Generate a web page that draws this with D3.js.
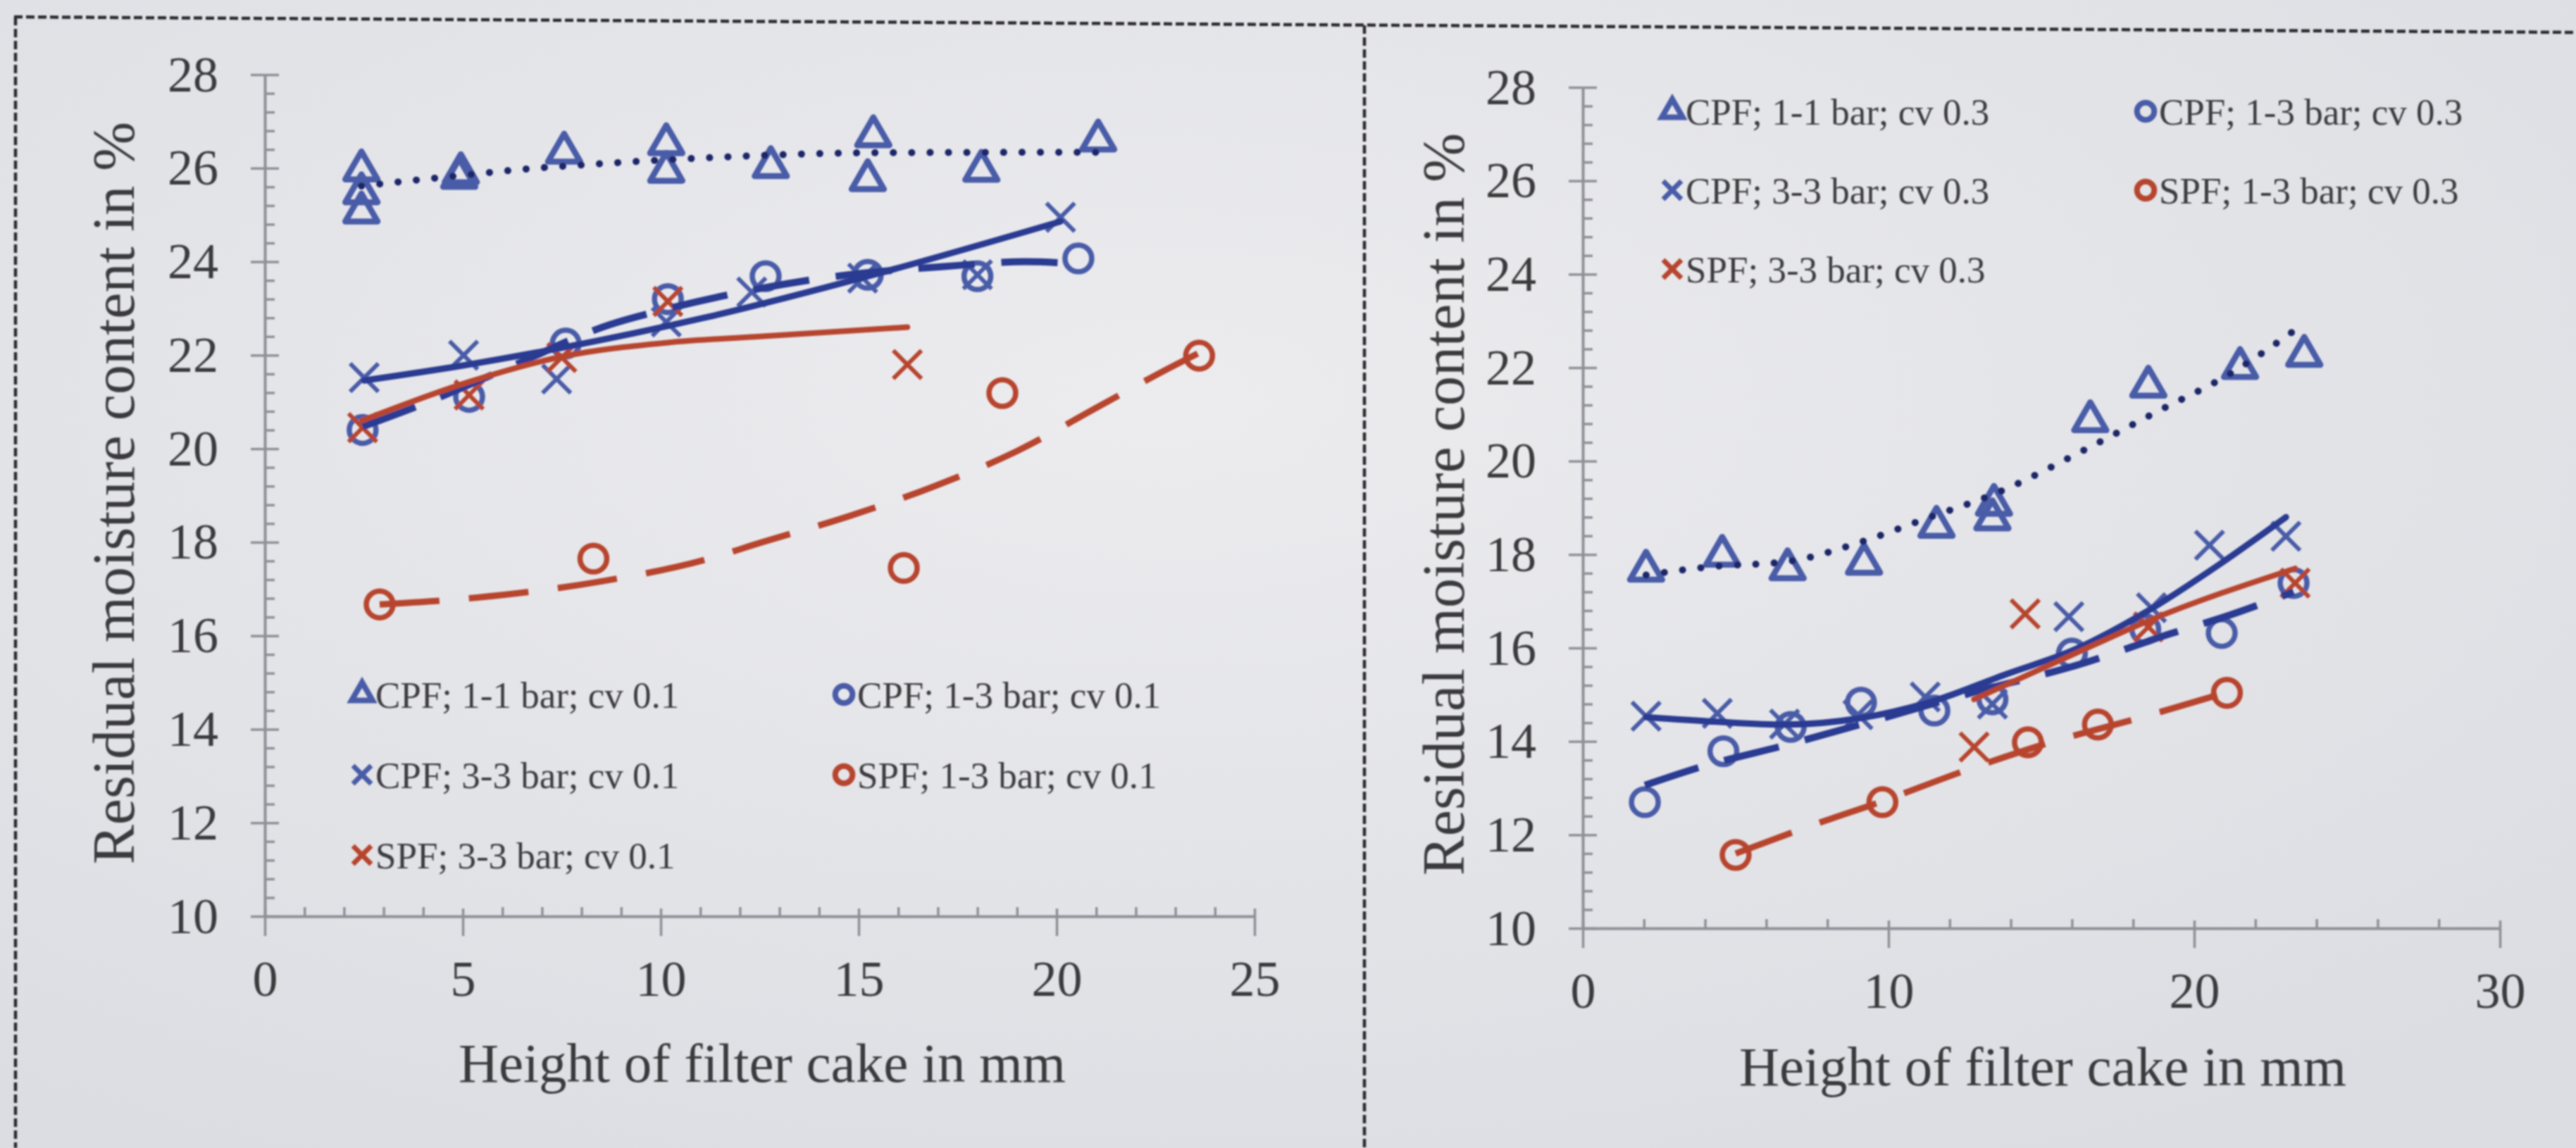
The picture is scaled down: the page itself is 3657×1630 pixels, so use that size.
<!DOCTYPE html>
<html>
<head>
<meta charset="utf-8">
<script src="https://cdn.jsdelivr.net/npm/d3@7"></script>
<style>
  html, body { margin: 0; padding: 0; background: #e4e5e9; }
  svg { display: block; }
  text { font-family: 'Liberation Serif', 'Times New Roman', serif; }
</style>
</head>
<body>
<svg id="chart" width="3657" height="1630"></svg>
<script>
const yTicks = [10, 12, 14, 16, 18, 20, 22, 24, 26, 28];
const xTicksLeft = [0, 5, 10, 15, 20, 25];
const xTicksRight = [0, 10, 20, 30];
const yTitle = 'Residual moisture content in %';
const xTitle = 'Height of filter cake in mm';

// cv 0.1
const cpf11Left = [[2.44, 25.96], [2.44, 25.47], [2.44, 25.06], [4.91, 25.80], [4.95, 25.90], [7.56, 26.34], [10.14, 26.52], [10.14, 25.93], [12.78, 26.03], [15.37, 26.69], [15.23, 25.75], [18.10, 25.95], [21.05, 26.60]];
const cpf11LeftTrend = [[2.44, 25.62], [4.9, 25.84], [6.7, 25.99], [8.2, 26.08], [11.1, 26.22], [15.4, 26.33], [21.05, 26.34]];
const cpf13Left = [[2.47, 20.40], [5.16, 21.11], [7.6, 22.25], [10.18, 23.20], [12.65, 23.69], [15.23, 23.72], [18.0, 23.69], [20.55, 24.07]];
const cpf13LeftTrend = [[2.47, 20.47], [3.83, 20.9], [6.2, 21.75], [8.7, 22.65], [10.07, 22.97], [11.64, 23.28], [14.55, 23.7], [17.2, 23.9], [19.2, 24.0], [20.55, 23.95]];
const cpf33Left = [[2.51, 21.52], [5.02, 22.0], [7.37, 21.49], [10.14, 22.71], [12.3, 23.35], [15.1, 23.65], [18.0, 23.72], [20.1, 24.95]];
const cpf33LeftTrend = [[2.51, 21.46], [5.0, 21.78], [7.45, 22.15], [11.1, 22.8], [15.37, 23.72], [20.1, 24.86]];
const spf13Left = [[2.9, 16.67], [8.3, 17.65], [16.14, 17.45], [18.63, 21.19], [23.6, 21.99]];
const spf13LeftTrend = [[2.9, 16.67], [5.4, 16.82], [8.4, 17.15], [11.1, 17.62], [12.56, 18.0], [14.73, 18.55], [16.92, 19.2], [19.0, 19.95], [21.1, 20.92], [22.9, 21.75], [23.6, 22.05]];
const spf33Left = [[2.47, 20.45], [5.16, 21.15], [7.5, 21.95], [10.18, 23.15], [16.23, 21.8]];
const spf33LeftTrend = [[2.45, 20.6], [5.16, 21.43], [7.45, 21.96], [10.18, 22.27], [12.5, 22.4], [16.23, 22.6]];
const legendLeft = ['CPF; 1-1 bar; cv 0.1', 'CPF; 1-3 bar; cv 0.1', 'CPF; 3-3 bar; cv 0.1', 'SPF; 1-3 bar; cv 0.1', 'SPF; 3-3 bar; cv 0.1'];

// cv 0.3
const cpf11Right = [[2.07, 17.66], [4.56, 17.98], [6.7, 17.69], [9.2, 17.81], [11.57, 18.6], [13.4, 18.76], [13.45, 19.07], [16.6, 20.86], [18.5, 21.6], [21.5, 22.0], [23.6, 22.26]];
const cpf11RightTrend = [[2.07, 17.56], [4.2, 17.74], [6.7, 17.85], [9.15, 18.28], [11.27, 18.78], [13.55, 19.32], [16.5, 20.27], [18.85, 21.08], [21.1, 21.84], [23.5, 22.9]];
const cpf13Right = [[2.03, 12.7], [4.6, 13.79], [6.8, 14.31], [9.1, 14.83], [11.5, 14.66], [13.4, 14.9], [16.0, 15.88], [18.4, 16.4], [20.9, 16.32], [23.25, 17.39]];
const cpf13RightTrend = [[2.03, 13.06], [3.8, 13.44], [6.75, 13.94], [9.56, 14.45], [12.5, 15.0], [16.5, 15.7], [19.2, 16.3], [21.15, 16.7], [23.25, 17.2]];
const cpf33Right = [[2.07, 14.54], [4.4, 14.6], [6.6, 14.37], [9.0, 14.57], [11.2, 14.95], [13.4, 14.8], [15.9, 16.67], [18.6, 16.86], [20.5, 18.2], [23.0, 18.39]];
const cpf33RightTrend = [[2.07, 14.52], [4.4, 14.42], [6.6, 14.36], [9.1, 14.5], [11.3, 14.83], [13.9, 15.45], [16.0, 15.94], [18.5, 16.8], [20.85, 17.8], [23.0, 18.8]];
const spf13Right = [[5.0, 11.57], [9.8, 12.7], [14.56, 13.98], [16.85, 14.36], [21.07, 15.04]];
const spf13RightTrend = [[5.0, 11.6], [7.7, 12.25], [9.8, 12.72], [12.4, 13.35], [15.3, 13.98], [18.2, 14.5], [21.07, 15.05]];
const spf33Right = [[12.8, 13.88], [14.47, 16.73], [18.5, 16.45], [23.3, 17.39]];
const spf33RightTrend = [[12.8, 14.9], [16.0, 15.85], [18.5, 16.58], [23.3, 17.7]];
const legendRight = ['CPF; 1-1 bar; cv 0.3', 'CPF; 1-3 bar; cv 0.3', 'CPF; 3-3 bar; cv 0.3', 'SPF; 1-3 bar; cv 0.3', 'SPF; 3-3 bar; cv 0.3'];

const blue = '#4a5ca7', navy = '#2b3a92', dots = '#1d2668', red = '#b7442d';

const timesType = d3.symbolTimes || {
    draw: function (ctx, size) {
        const r = Math.sqrt(size) * 0.6189;
        ctx.moveTo(-r, -r); ctx.lineTo(r, r); ctx.moveTo(-r, r); ctx.lineTo(r, -r);
    }
};
const triangleType = d3.symbolTriangle2 || d3.symbolTriangle;

const markers = {
    triangle: {type: triangleType, size: 1500, width: 8.5},
    circle: {type: d3.symbolCircle, size: 1130, width: 7.5},
    cross: {type: timesType, size: 1050, width: 6}
};

function seriesList(pts) {
    return [
        {points: pts[0], trend: pts[1], marker: 'triangle', color: blue, line: dots, dash: '0.1 26', lw: 10, cap: 'round'},
        {points: pts[2], trend: pts[3], marker: 'circle', color: blue, line: navy, dash: '80 38', lw: 10, cap: 'butt'},
        {points: pts[4], trend: pts[5], marker: 'cross', color: blue, line: navy, dash: null, lw: 9, cap: 'round'},
        {points: pts[6], trend: pts[7], marker: 'circle', color: red, line: red, dash: '85 42', lw: 9, cap: 'butt'},
        {points: pts[8], trend: pts[9], marker: 'cross', color: red, line: red, dash: null, lw: 8, cap: 'round'}
    ];
}

const svg = d3.select('#chart');

const defs = svg.append('defs');
const grad = defs.append('radialGradient').attr('id', 'paper')
    .attr('cx', '45%').attr('cy', '35%').attr('r', '75%');
grad.append('stop').attr('offset', '0%').attr('stop-color', '#ececef');
grad.append('stop').attr('offset', '100%').attr('stop-color', '#dcdde2');
defs.append('filter').attr('id', 'soft')
    .append('feGaussianBlur').attr('stdDeviation', 1.1);

svg.append('rect').attr('width', 3657).attr('height', 1630).attr('fill', 'url(#paper)');

const root = svg.append('g').attr('filter', 'url(#soft)');

// dashed frame
root.append('line').attr('x1', 20).attr('y1', 24).attr('x2', 3657).attr('y2', 46);
root.append('line').attr('x1', 22).attr('y1', 24).attr('x2', 22).attr('y2', 1630);
root.append('line').attr('x1', 1937).attr('y1', 36).attr('x2', 1937).attr('y2', 1630);
root.selectAll('line')
    .attr('stroke', '#2a2a2e')
    .attr('stroke-width', 4.5)
    .attr('stroke-dasharray', '12 5');

function drawPanel(p) {
    const x = d3.scaleLinear().domain([0, p.xMax]).range(p.xRange);
    const y = d3.scaleLinear().domain([10, 28]).range(p.yRange);
    const g = root.append('g');
    const axisColor = '#8f9097';

    const yMinor = d3.range(10, 28.001, 0.4).filter(function (v) {
        return Math.abs(v / 2 - Math.round(v / 2)) > 0.01;
    });
    const xMinor = d3.range(0, p.xMax + 0.001, p.xMinorStep).filter(function (v) {
        return p.xTicks.indexOf(v) < 0;
    });

    g.append('g').attr('transform', 'translate(' + x(0) + ',0)')
        .call(d3.axisLeft(y).tickValues(yTicks).tickSize(20).tickSizeOuter(0).tickPadding(46));
    g.append('g').attr('transform', 'translate(' + x(0) + ',0)')
        .call(d3.axisRight(y).tickValues(yTicks).tickSize(20).tickFormat(''))
        .select('.domain').remove();
    g.append('g').attr('transform', 'translate(' + x(0) + ',0)')
        .call(d3.axisRight(y).tickValues(yMinor).tickSize(14).tickFormat(''))
        .select('.domain').remove();

    g.append('g').attr('transform', 'translate(0,' + y(10) + ')')
        .call(d3.axisBottom(x).tickValues(p.xTicks).tickSize(28).tickSizeOuter(0).tickPadding(34));
    g.append('g').attr('transform', 'translate(0,' + y(10) + ')')
        .call(d3.axisTop(x).tickValues(p.xTicks).tickSize(11).tickFormat(''))
        .select('.domain').remove();
    g.append('g').attr('transform', 'translate(0,' + y(10) + ')')
        .call(d3.axisTop(x).tickValues(xMinor).tickSize(13).tickFormat(''))
        .select('.domain').remove();

    g.selectAll('.domain').attr('stroke', axisColor).attr('stroke-width', 4);
    g.selectAll('.tick line').attr('stroke', axisColor).attr('stroke-width', 3.5);
    g.selectAll('.tick text')
        .attr('fill', '#3a3a3d')
        .style('font-family', "'Liberation Serif', serif")
        .style('font-size', '72px');

    g.append('text')
        .attr('transform', 'translate(' + p.yTitleX + ',' + p.yTitleY + ') rotate(-90)')
        .attr('text-anchor', 'middle')
        .attr('fill', '#3a3a3d')
        .style('font-size', '84px')
        .text(yTitle);
    g.append('text')
        .attr('x', p.xTitleX).attr('y', p.xTitleY)
        .attr('text-anchor', 'middle')
        .attr('fill', '#3a3a3d')
        .style('font-size', '79px')
        .text(xTitle);

    const series = seriesList(p.data);

    series.forEach(function (s) {
        const m = markers[s.marker];
        g.append('g').selectAll('path')
            .data(s.points)
            .enter().append('path')
            .attr('transform', function (d) {
                return 'translate(' + x(d[0]) + ',' + y(d[1]) + ')';
            })
            .attr('d', d3.symbol(m.type, m.size))
            .attr('fill', 'none')
            .attr('stroke', s.color)
            .attr('stroke-width', m.width)
            .attr('stroke-linejoin', 'round');
    });

    const line = d3.line()
        .x(function (d) { return x(d[0]); })
        .y(function (d) { return y(d[1]); })
        .curve(d3.curveMonotoneX);

    series.forEach(function (s) {
        g.append('path')
            .datum(s.trend)
            .attr('d', line)
            .attr('fill', 'none')
            .attr('stroke', s.line)
            .attr('stroke-width', s.lw)
            .attr('stroke-linecap', s.cap)
            .attr('stroke-dasharray', s.dash);
    });

    const leg = g.append('g');
    p.legend.forEach(function (label, i) {
        const s = series[i];
        const m = markers[s.marker];
        const cx = p.legendX + (i % 2) * p.legendCol;
        const cy = p.legendY + Math.floor(i / 2) * p.legendRow;
        leg.append('path')
            .attr('transform', 'translate(' + cx + ',' + cy + ')')
            .attr('d', d3.symbol(m.type, m.size * 0.42))
            .attr('fill', 'none')
            .attr('stroke', s.color)
            .attr('stroke-width', s.marker === 'cross' ? 7 : 8);
        leg.append('text')
            .attr('x', cx + 19).attr('y', cy)
            .attr('dy', '0.36em')
            .attr('fill', '#3c3c40')
            .style('font-size', '53px')
            .text(label);
    });
}

drawPanel({
    xMax: 25, xRange: [376, 1781], yRange: [1301, 106],
    xTicks: xTicksLeft, xMinorStep: 1,
    data: [cpf11Left, cpf11LeftTrend, cpf13Left, cpf13LeftTrend, cpf33Left, cpf33LeftTrend, spf13Left, spf13LeftTrend, spf33Left, spf33LeftTrend],
    legend: legendLeft, legendX: 514, legendY: 986, legendCol: 684, legendRow: 114,
    yTitleX: 190, yTitleY: 700, xTitleX: 1082, xTitleY: 1536
});

drawPanel({
    xMax: 30, xRange: [2247, 3549], yRange: [1318, 124],
    xTicks: xTicksRight, xMinorStep: 2,
    data: [cpf11Right, cpf11RightTrend, cpf13Right, cpf13RightTrend, cpf33Right, cpf33RightTrend, spf13Right, spf13RightTrend, spf33Right, spf33RightTrend],
    legend: legendRight, legendX: 2374, legendY: 158, legendCol: 672, legendRow: 112,
    yTitleX: 2078, yTitleY: 716, xTitleX: 2900, xTitleY: 1541
});
</script>
</body>
</html>
